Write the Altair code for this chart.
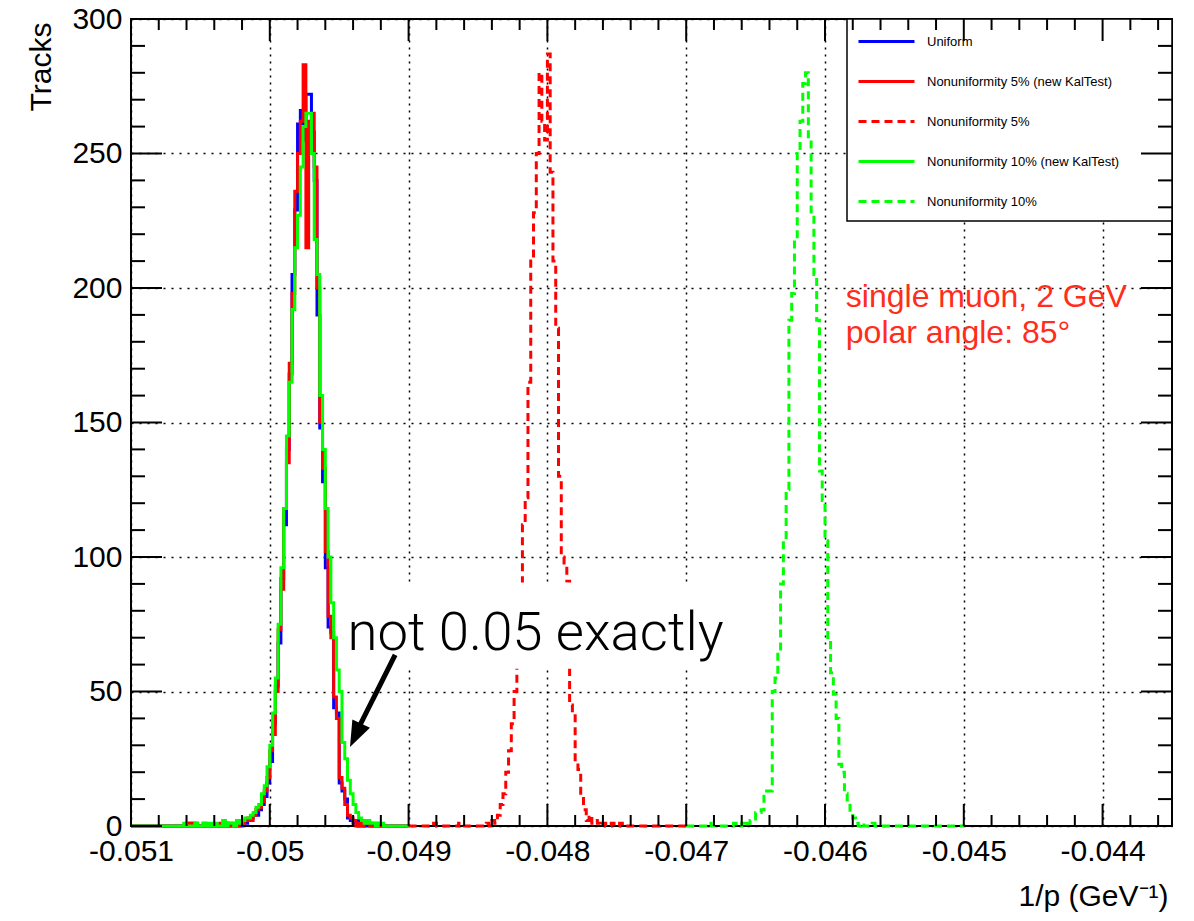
import altair as alt
import pandas as pd
import numpy as np

# ---------------- data ----------------
BIN_W = 0.00002
N_BINS = 100
SERIES = ["Uniform", "Nonuniformity 5% (new KalTest)", "Nonuniformity 5%",
          "Nonuniformity 10% (new KalTest)", "Nonuniformity 10%"]
COLORS = ["#0000ff", "#ff0000", "#ff0000", "#00ff00", "#00ff00"]
DASHES = [[1, 0], [1, 0], [8, 5], [1, 0], [8, 5]]
RANGE_LO = [-0.051, -0.051, -0.049, -0.051, -0.047]
STARTS = [20, 21, 9, 19, 8]

BLUE = [1, 0, 1, 0, 0, 0, 0, 0, 0, 0, 0, 0, 0, 1, 0, 1, 0, 0, 1, 0,
        2, 1, 2, 3, 4, 4, 6, 8, 11, 16,
        24, 38, 52, 68, 92, 112, 140, 168, 205, 229,
        261, 266, 255, 272, 272, 258, 240, 190, 148, 128,
        96, 74, 72, 44, 42, 16, 13, 10, 3, 2,
        1, 2, 0, 1, 0, 0, 1]
RED = [1, 0, 1, 0, 0, 1, 0, 0, 0, 0, 0, 1, 0, 1, 0, 0, 1, 0, 2,
       1, 2, 3, 2, 4, 6, 7, 9, 13, 18,
       28, 34, 50, 73, 88, 118, 135, 172, 198, 236,
       250, 262, 283, 215, 262, 265, 245, 200, 150, 133,
       102, 78, 70, 48, 40, 18, 14, 8, 4, 3,
       2, 0, 1, 0, 1, 1, 0, 0, 1]
RED_DASHED = [1, 0, 0, 0, 0, 0, 0, 0, 0, 1, 0, 0, 0, 0, 0, 0, 0, 0, 0, 1,
              0, 2, 1, 4, 8, 12, 20, 28, 38, 50,
              64, 85, 112, 122, 165, 210, 228, 250, 280, 262,
              255, 287, 243, 210, 185, 130, 100, 97, 91, 45,
              42, 24, 21, 11, 6, 2, 4, 1, 2, 1,
              0, 1, 0, 0, 1, 0, 0, 1]
GREEN = [1, 0, 0, 0, 1, 0, 0, 1, 0, 1, 0, 1, 0, 0, 2, 0, 1, 1, 0, 2, 1,
         2, 3, 3, 4, 5, 7, 8, 12, 15, 22,
         30, 42, 55, 75, 96, 118, 145, 165, 192, 215,
         227, 245, 260, 265, 265, 250, 218, 205, 160, 140,
         118, 100, 83, 70, 58, 50, 31, 25, 17, 12,
         8, 5, 3, 2, 1, 2, 1, 1, 0, 1, 1]
GREEN_DASHED = [1, 0, 0, 0, 0, 0, 0, 0, 0, 1, 0, 0, 1, 0, 1, 2, 2, 5, 5, 6,
                13, 13, 13, 50, 55, 65, 90, 106, 125, 188,
                198, 218, 250, 262, 276, 280, 255, 227, 205, 188,
                132, 121, 106, 69, 57, 49, 40, 23, 20, 12,
                9, 5, 3, 1, 0, 1, 0, 0, 0, 1]
COUNTS = [BLUE, RED, RED_DASHED, GREEN, GREEN_DASHED]

X_MAJOR = [-0.051, -0.050, -0.049, -0.048, -0.047, -0.046, -0.045, -0.044]
Y_MAJOR = [0, 50, 100, 150, 200, 250, 300]
X_DOMAIN = [-0.051, -0.0435]
Y_DOMAIN = [0, 300]

ANNOT_TEXT = "not 0.05 exactly"
INFO_LINES = ["single muon, 2 GeV", "polar angle: 85°"]

# ---------------- build tables ----------------
rows = []
for s, lo, st, cnt in zip(SERIES, RANGE_LO, STARTS, COUNTS):
    full = np.zeros(N_BINS)
    full[st:st + len(cnt)] = cnt
    for i in range(N_BINS + 1):
        y = full[i] if i < N_BINS else full[N_BINS - 1]
        rows.append({"series": s, "x": round(lo + i * BIN_W, 6), "y": float(y)})
hist = pd.DataFrame(rows)

W, H = 1041, 807
FONT = "Liberation Sans"
x_scale = alt.Scale(domain=X_DOMAIN, nice=False, zero=False)
y_scale = alt.Scale(domain=Y_DOMAIN, nice=False)

x_axis = alt.Axis(values=X_MAJOR, ticks=False, domain=False, grid=True,
                  gridDash=[2, 5], gridColor="black", gridWidth=1.5, gridOpacity=1,
                  labelExpr="replace(format(datum.value, '.3~f'), '\u2212', '-')",
                  labelFont=FONT, labelFontSize=30, labelColor="black", labelPadding=10,
                  labelOverlap=False, labelFlush=False,
                  title="1/p (GeV\u207b\u00b9)", titleFont=FONT, titleFontSize=30,
                  titleFontWeight="normal", titleColor="black", titleX=1037, titleY=79,
                  titleAlign="right", titleBaseline="alphabetic", titleAnchor="end")
y_axis = alt.Axis(values=Y_MAJOR, ticks=False, domain=False, grid=True,
                  gridDash=[2, 6], gridColor="black", gridWidth=1.5, gridOpacity=1,
                  labelFont=FONT, labelFontSize=30, labelColor="black", labelPadding=9,
                  labelOverlap=False, labelFlush=False,
                  title="Tracks", titleFont=FONT, titleFontSize=30, titleFontWeight="normal",
                  titleColor="black", titleX=-81, titleY=3, titleAlign="right",
                  titleBaseline="alphabetic", titleAnchor="end")

def X(field):
    return alt.X(field, type="quantitative", scale=x_scale, axis=x_axis)

def Y(field):
    return alt.Y(field, type="quantitative", scale=y_scale, axis=y_axis)

legend = alt.Legend(title=None, orient="none", legendX=716, legendY=3, padding=10,
                    symbolType="M-1,0L6,0", symbolSize=256, symbolStrokeWidth=3,
                    labelFont=FONT, labelFontSize=13, labelColor="black", labelOffset=51,
                    rowPadding=23, labelLimit=400)

color = alt.Color("series:N", scale=alt.Scale(domain=SERIES, range=COLORS), legend=legend)
dash = alt.StrokeDash("series:N", scale=alt.Scale(domain=SERIES, range=DASHES), legend=legend)

layers = []
for s in SERIES:
    layers.append(
        alt.Chart(hist).transform_filter(alt.datum.series == s)
        .mark_line(interpolate="step-after", strokeWidth=3, strokeJoin="miter")
        .encode(x=X("x"), y=Y("y"), color=color, strokeDash=dash)
    )

# ---------------- ticks (inside the frame, ROOT style) ----------------
x_minor = [round(-0.051 + i * 0.0002, 6) for i in range(38) if i % 5 != 0]
y_minor = [v for v in range(10, 300, 10) if v % 50 != 0]

def xticks(vals, length, top):
    df = pd.DataFrame({"v": vals})
    y0, y1 = (0, length) if top else (H, H - length)
    return alt.Chart(df).mark_rule(color="black", strokeWidth=2).encode(
        x=X("v"), y=alt.value(y0), y2=alt.value(y1))

def yticks(vals, length, right):
    df = pd.DataFrame({"v": vals})
    x0, x1 = (W, W - length) if right else (0, length)
    return alt.Chart(df).mark_rule(color="black", strokeWidth=2).encode(
        y=Y("v"), x=alt.value(x0), x2=alt.value(x1))

tick_layers = [xticks(X_MAJOR, 22, False), xticks(x_minor, 11, False),
               xticks(X_MAJOR, 22, True), xticks(x_minor, 11, True),
               yticks(Y_MAJOR, 31, False), yticks(y_minor, 14, False),
               yticks(Y_MAJOR, 31, True), yticks(y_minor, 14, True)]

# ---------------- legend frame ----------------
lbox_df = pd.DataFrame({"x1": [-0.0458415], "x2": [-0.0435], "y1": [224.9], "y2": [300.0]})
lbox = alt.Chart(lbox_df).mark_rect(fill="white", stroke="black", strokeWidth=1.5).encode(
    x=X("x1"), x2="x2:Q", y=Y("y1"), y2="y2:Q")

# ---------------- annotations ----------------
box_df = pd.DataFrame({"x1": [-0.04946], "x2": [-0.04664], "y1": [58.5], "y2": [90.5]})
box = alt.Chart(box_df).mark_rect(color="white").encode(
    x=X("x1"), x2="x2:Q", y=Y("y1"), y2="y2:Q")

txt_df = pd.DataFrame({"x": [-0.04944], "y": [65.4], "t": [ANNOT_TEXT]})
txt = alt.Chart(txt_df).mark_text(align="left", baseline="alphabetic", fontSize=54.5,
                                  font="Roboto", fontWeight=300, color="black").encode(
    x=X("x"), y=Y("y"), text="t:N")

shaft_df = pd.DataFrame({"x1": [-0.049097], "y1": [63.6], "x2": [-0.049372], "y2": [35.3]})
shaft = alt.Chart(shaft_df).mark_rule(color="black", strokeWidth=5).encode(
    x=X("x1"), x2="x2:Q", y=Y("y1"), y2="y2:Q")

head_df = pd.DataFrame({"x": [-0.049382], "y": [33.7]})
head = alt.Chart(head_df).mark_point(shape="M0,-1L0.75,1L-0.75,1Z", angle=205.5, size=676,
                                     filled=True, color="black", opacity=1).encode(
    x=X("x"), y=Y("y"))

info_df = pd.DataFrame({"x": [-0.04585, -0.04585], "y": [192.9, 179.6], "t": INFO_LINES})
info = alt.Chart(info_df).mark_text(align="left", baseline="alphabetic", fontSize=32,
                                    font=FONT, color="#ff2d1a").encode(
    x=X("x"), y=Y("y"), text="t:N")

chart = alt.layer(*layers, lbox, *tick_layers, box, txt, shaft, head, info).properties(
    width=W, height=H,
    padding={"left": 123, "top": 11, "right": 14, "bottom": 90},
    autosize=alt.AutoSizeParams(type="none"),
    background="white",
).configure_view(stroke="black", strokeWidth=2)

chart.save("out.html", embed_options={"renderer": "svg", "actions": False})
